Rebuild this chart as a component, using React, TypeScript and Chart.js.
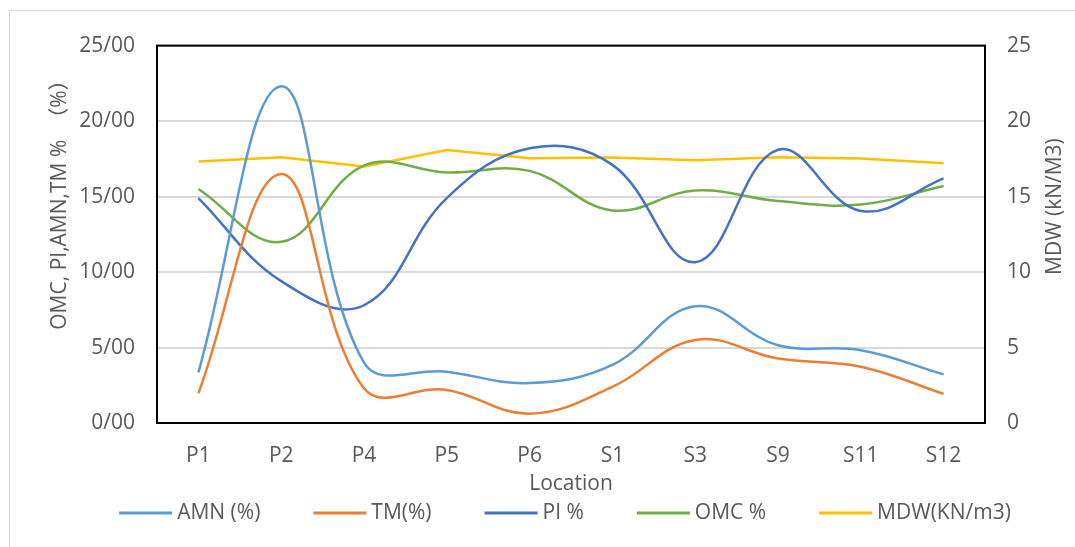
import React, { useEffect, useRef } from "react";
import { Chart, registerables } from "chart.js";

Chart.register(...registerables);

const categories = ["P1", "P2", "P4", "P5", "P6", "S1", "S3", "S9", "S11", "S12"];
const amn = [3.36, 22.3, 4.0, 3.4, 2.65, 3.85, 7.74, 5.15, 4.82, 3.22];
const tm = [1.97, 16.5, 2.3, 2.19, 0.62, 2.4, 5.5, 4.27, 3.73, 1.93];
const pi = [14.9, 9.4, 7.8, 14.9, 18.2, 17.1, 10.65, 18.1, 14.05, 16.2];
const omc = [15.5, 12.0, 17.05, 16.6, 16.7, 14.08, 15.4, 14.7, 14.47, 15.7];
const mdw = [17.32, 17.6, 17.0, 18.09, 17.54, 17.59, 17.41, 17.6, 17.52, 17.21];
const leftTicks = [0, 5, 10, 15, 20, 25];
const leftTitle = "OMC, PI,AMN,TM %  （%）";
const rightTitle = "MDW (kN/M3)";

const FONT = "'Open Sans', 'Noto Sans', 'Noto Sans CJK SC', sans-serif";
const TEXT = "#595959";
const FS = 21;

const framePlugin = {
  id: "frame",
  afterDatasetsDraw(chart: any) {
    const { ctx, chartArea } = chart;
    ctx.save();
    ctx.strokeStyle = "#000000";
    ctx.lineWidth = 2;
    ctx.strokeRect(chartArea.left, chartArea.top, chartArea.right - chartArea.left, chartArea.bottom - chartArea.top);
    ctx.restore();
  },
  afterDraw(chart: any) {
    const { ctx, chartArea } = chart;
    const draw = (text: string, x: number, y: number) => {
      ctx.save();
      ctx.translate(x, y);
      ctx.rotate(-Math.PI / 2);
      ctx.font = `${FS}px ${FONT}`;
      ctx.fillStyle = TEXT;
      ctx.textAlign = "center";
      ctx.textBaseline = "middle";
      ctx.fillText(text, 0, 0);
      ctx.restore();
    };
    draw(leftTitle, chartArea.left - 97, chartArea.top + 154);
    draw(rightTitle, chartArea.right + 70, chartArea.top + 161);

    // legend
    const lineLen = 53;
    const gap = 5;
    const spacing = 53;
    ctx.save();
    ctx.font = `${FS}px ${FONT}`;
    const items = chart.data.datasets.map((d: any) => ({
      text: d.label,
      color: d.borderColor,
      w: ctx.measureText(d.label).width,
    }));
    const total =
      items.reduce((a: number, it: any) => a + lineLen + gap + it.w, 0) + spacing * (items.length - 1);
    const center = (chartArea.left + chartArea.right) / 2 - 6;
    let x = center - total / 2;
    const y = chartArea.bottom + 90;
    ctx.textBaseline = "middle";
    ctx.textAlign = "left";
    items.forEach((it: any) => {
      ctx.strokeStyle = it.color;
      ctx.lineWidth = 3;
      ctx.beginPath();
      ctx.moveTo(x, y);
      ctx.lineTo(x + lineLen, y);
      ctx.stroke();
      ctx.fillStyle = TEXT;
      ctx.fillText(it.text, x + lineLen + gap, y);
      x += lineLen + gap + it.w + spacing;
    });
    ctx.restore();
  },
};

export default function App() {
  const ref = useRef<HTMLCanvasElement | null>(null);

  useEffect(() => {
    if (!ref.current) return;
    const mk = (label: string, data: number[], color: string, axis: string, tension: number) => ({
      label,
      data,
      borderColor: color,
      backgroundColor: color,
      borderWidth: 2.5,
      pointRadius: 0,
      tension,
      yAxisID: axis,
      fill: false,
    });
    const chart = new Chart(ref.current, {
      type: "line",
      data: {
        labels: categories,
        datasets: [
          mk("AMN (%)", amn, "#5B9BD5", "y", 0.4),
          mk("TM(%)", tm, "#ED7D31", "y", 0.4),
          mk("PI %", pi, "#4472C4", "y", 0.4),
          mk("OMC %", omc, "#70AD47", "y", 0.4),
          mk("MDW(KN/m3)", mdw, "#FFC000", "y1", 0),
        ],
      },
      options: {
        animation: false,
        responsive: true,
        maintainAspectRatio: false,
        layout: { padding: { left: 20, right: 0, top: 32, bottom: 47 } },
        plugins: {
          tooltip: { enabled: false },
          legend: { display: false },
        },
        scales: {
          x: {
            offset: true,
            grid: { display: false, drawTicks: false },
            border: { display: false },
            ticks: { color: TEXT, font: { family: FONT, size: FS }, padding: 20, maxRotation: 0 },
            title: {
              display: true,
              text: "Location",
              color: TEXT,
              font: { family: FONT, size: FS },
              padding: { top: 0, bottom: 3 },
            },
            afterFit: (s: any) => {
              s.height = 77;
            },
          },
          y: {
            position: "left",
            min: 0,
            max: 25,
            afterBuildTicks: (s: any) => {
              s.ticks = leftTicks.map((v) => ({ value: v }));
            },
            grid: { color: "#d9d9d9", lineWidth: 2, drawTicks: false },
            border: { display: false },
            ticks: {
              color: TEXT,
              font: { family: FONT, size: FS },
              padding: 22,
              callback: (v: any) => `${v}/00`,
            },
            afterFit: (s: any) => {
              s.width = 127;
            },
          },
          y1: {
            position: "right",
            min: 0,
            max: 25,
            afterBuildTicks: (s: any) => {
              s.ticks = leftTicks.map((v) => ({ value: v }));
            },
            grid: { display: false, drawTicks: false },
            border: { display: false },
            ticks: { color: TEXT, font: { family: FONT, size: FS }, padding: 22 },
            afterFit: (s: any) => {
              s.width = 114;
            },
          },
        },
      },
      plugins: [framePlugin],
    });
    return () => chart.destroy();
  }, []);

  return (
    <div
      style={{
        position: "absolute",
        left: 9,
        top: 10,
        width: 1066,
        height: 537,
        borderLeft: "1px solid #d9d9d9",
        borderTop: "1px solid #d9d9d9",
        overflow: "hidden",
        background: "#ffffff",
      }}
    >
      <div style={{ position: "relative", width: 1089, height: 536 }}>
        <canvas ref={ref} />
      </div>
    </div>
  );
}
